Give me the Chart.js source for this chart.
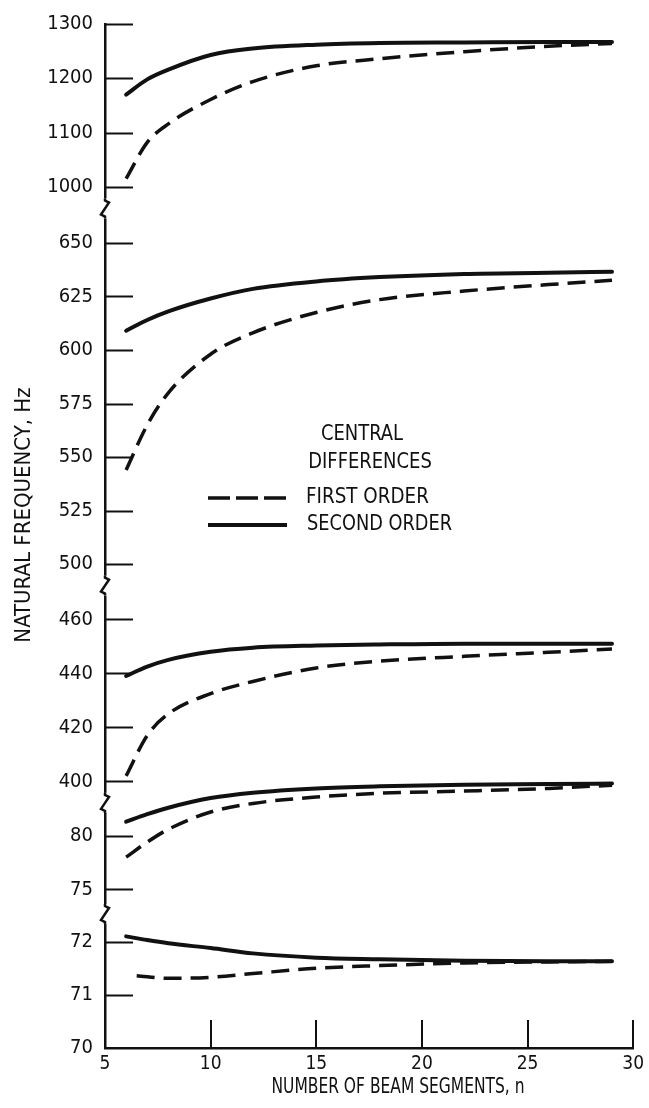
<!DOCTYPE html>
<html>
<head>
<meta charset="utf-8">
<script src="https://cdn.jsdelivr.net/npm/chart.js@4/dist/chart.umd.min.js"></script>
<style>
  html, body { margin: 0; padding: 0; background: #fff; }
  #wrap { width: 649px; height: 1108px; }
</style>
</head>
<body>
<div id="wrap"><canvas id="c" width="649" height="1108"></canvas></div>
<script>
const FONT = "'Liberation Sans Narrow', 'DejaVu Sans Condensed', sans-serif";
const INK = '#111';

const n = [6, 7, 8, 10, 12, 15, 18, 22, 26, 29];
const nLate = [6.5, 8, 10, 12, 15, 18, 22, 26, 29];

// 1000-1300 Hz band
const band1First = [1015, 1082, 1116, 1161, 1194, 1223, 1236, 1249, 1259, 1264];
const band1Second = [1170, 1198, 1216, 1243, 1255, 1262, 1265, 1266, 1267, 1267];
// 500-650 Hz band
const band2First = [544, 565, 580, 598, 608, 617.5, 623.5, 627.5, 630.5, 632.5];
const band2Second = [609, 614, 618, 624, 628.5, 632, 634, 635.5, 636, 636.5];
// 400-460 Hz band
const band3First = [402, 417, 425, 432.5, 437, 442, 444.5, 446.3, 447.8, 449];
const band3Second = [439, 442.5, 445, 448, 449.5, 450.3, 450.7, 451, 451, 451];
// 75-80 Hz band (curves run up past the break, as drawn in the original)
const band4First = [78.0, 79.4, 80.6, 82.2, 83.0, 83.6, 83.95, 84.15, 84.4, 84.7];
const band4Second = [81.3, 82.0, 82.6, 83.5, 84.0, 84.4, 84.6, 84.75, 84.8, 84.85];
// 70-72 Hz band (first order starts a bit later)
const band5First = [71.36, 71.31, 71.33, 71.4, 71.5, 71.55, 71.6, 71.62, 71.63];
const band5Second = [72.1, 72.03, 71.97, 71.88, 71.78, 71.7, 71.67, 71.64, 71.63, 71.63];

// tick labels
const xTicks = [5, 10, 15, 20, 25, 30];
const ticks1 = [1000, 1100, 1200, 1300];
const ticks2 = [500, 525, 550, 575, 600, 625, 650];
const ticks3 = [400, 420, 440, 460];
const ticks4 = [75, 80];
const ticks5 = [70, 71, 72];

function curve(xs, ys, axis, dashed) {
  return {
    data: xs.map((x, i) => ({ x, y: ys[i] })),
    yAxisID: axis,
    borderColor: INK,
    borderWidth: dashed ? 3.5 : 4,
    borderDash: dashed ? [18, 9] : [],
    borderCapStyle: dashed ? 'butt' : 'round',
    pointRadius: 0,
    cubicInterpolationMode: 'monotone',
    clip: false,
    fill: false
  };
}

function band(min, max, weight, tickVals) {
  return {
    type: 'linear',
    position: 'left',
    stack: 'freq',
    stackWeight: weight,
    min, max,
    afterBuildTicks: s => { s.ticks = tickVals.map(v => ({ value: v })); },
    afterFit: s => { s.width = 105; },
    grid: { drawOnChartArea: false, drawTicks: false },
    border: { display: true, color: INK, width: 2.5 },
    ticks: {
      color: INK, autoSkip: false, padding: 12,
      font: { family: FONT, size: 20 },
      callback: v => String(v)
    }
  };
}

// draw text squeezed sideways, the original lettering is narrow
function narrowText(ctx, text, x, y, sx) {
  ctx.save();
  ctx.translate(x, y);
  ctx.scale(sx, 1);
  ctx.fillText(text, 0, 0);
  ctx.restore();
}

// inward tick marks, axis breaks, titles and the key
const decor = {
  id: 'decor',
  afterDraw(chart) {
    const { ctx, chartArea, scales } = chart;
    const bands = ['yA', 'yB', 'yC', 'yD', 'yE'];
    const tickSets = { yA: ticks1, yB: ticks2, yC: ticks3, yD: ticks4, yE: ticks5 };
    ctx.save();
    ctx.strokeStyle = INK;
    ctx.lineWidth = 2;
    bands.forEach(id => {
      const s = scales[id];
      tickSets[id].forEach(v => {
        if (id === 'yE' && v === 70) return;
        const y = Math.round(s.getPixelForValue(v)) + 0.5;
        ctx.beginPath();
        ctx.moveTo(chartArea.left, y);
        ctx.lineTo(chartArea.left + 28, y);
        ctx.stroke();
      });
    });
    const sx = scales.x;
    xTicks.slice(1).forEach(v => {
      const x = Math.round(sx.getPixelForValue(v));
      ctx.beginPath();
      ctx.moveTo(x, chartArea.bottom);
      ctx.lineTo(x, chartArea.bottom - 28);
      ctx.stroke();
    });

    // zigzag breaks between the stacked bands
    const lx = chartArea.left;
    bands.slice(0, -1).forEach(id => {
      const y = scales[id].bottom;
      ctx.fillStyle = '#fff';
      ctx.fillRect(lx - 4, y - 10, 8, 20);
      ctx.lineWidth = 2.5;
      ctx.beginPath();
      ctx.moveTo(lx, y - 10);
      ctx.lineTo(lx, y - 8);
      ctx.lineTo(lx + 4, y - 6);
      ctx.lineTo(lx - 4, y + 6);
      ctx.lineTo(lx, y + 8);
      ctx.lineTo(lx, y + 10);
      ctx.stroke();
    });

    ctx.fillStyle = INK;
    ctx.textBaseline = 'middle';
    ctx.textAlign = 'center';
    ctx.font = `21px ${FONT}`;
    narrowText(ctx, 'NUMBER OF BEAM SEGMENTS, n', 398, 1088, 0.82);

    ctx.save();
    ctx.translate(24, 515);
    ctx.rotate(-Math.PI / 2);
    ctx.font = `22px ${FONT}`;
    ctx.fillText('NATURAL FREQUENCY, Hz', 0, 0);
    ctx.restore();

    ctx.font = `21px ${FONT}`;
    narrowText(ctx, 'CENTRAL', 362, 435, 0.95);
    narrowText(ctx, 'DIFFERENCES', 370, 463, 0.95);
    ctx.textAlign = 'left';
    narrowText(ctx, 'FIRST ORDER', 306, 498, 0.97);
    narrowText(ctx, 'SECOND ORDER', 307, 525, 0.94);

    ctx.lineWidth = 3.5;
    ctx.setLineDash([22, 6]);
    ctx.beginPath();
    ctx.moveTo(208, 498);
    ctx.lineTo(287, 498);
    ctx.stroke();
    ctx.setLineDash([]);
    ctx.lineWidth = 4;
    ctx.beginPath();
    ctx.moveTo(208, 525);
    ctx.lineTo(287, 525);
    ctx.stroke();
    ctx.restore();
  }
};

new Chart(document.getElementById('c'), {
  type: 'line',
  data: {
    datasets: [
      curve(n, band1First, 'yA', true),
      curve(n, band1Second, 'yA', false),
      curve(n, band2First, 'yB', true),
      curve(n, band2Second, 'yB', false),
      curve(n, band3First, 'yC', true),
      curve(n, band3Second, 'yC', false),
      curve(n, band4First, 'yD', true),
      curve(n, band4Second, 'yD', false),
      curve(nLate, band5First, 'yE', true),
      curve(n, band5Second, 'yE', false)
    ]
  },
  options: {
    responsive: false,
    animation: false,
    layout: { autoPadding: false, padding: { top: 16, right: 9, bottom: 0, left: 0 } },
    plugins: { legend: { display: false }, tooltip: { enabled: false } },
    scales: {
      x: {
        type: 'linear',
        position: 'bottom',
        min: 5, max: 30,
        afterBuildTicks: s => { s.ticks = xTicks.map(v => ({ value: v })); },
        afterFit: s => { s.height = 60; },
        grid: { drawOnChartArea: false, drawTicks: false },
        border: { display: true, color: INK, width: 2.5 },
        ticks: {
          color: INK, autoSkip: false, maxRotation: 0, padding: 5,
          font: { family: FONT, size: 19 },
          callback: v => String(v)
        }
      },
      // bottom band first: the last stacked axis is placed on top
      yE: band(70, 72.52, 135, ticks5),
      yD: band(72.7, 83.05, 112, ticks4),
      yC: band(392, 472.5, 219, ticks3),
      yB: band(490, 666, 380, ticks2),
      yA: band(960, 1300, 186, ticks1)
    }
  },
  plugins: [decor]
});
</script>
</body>
</html>
